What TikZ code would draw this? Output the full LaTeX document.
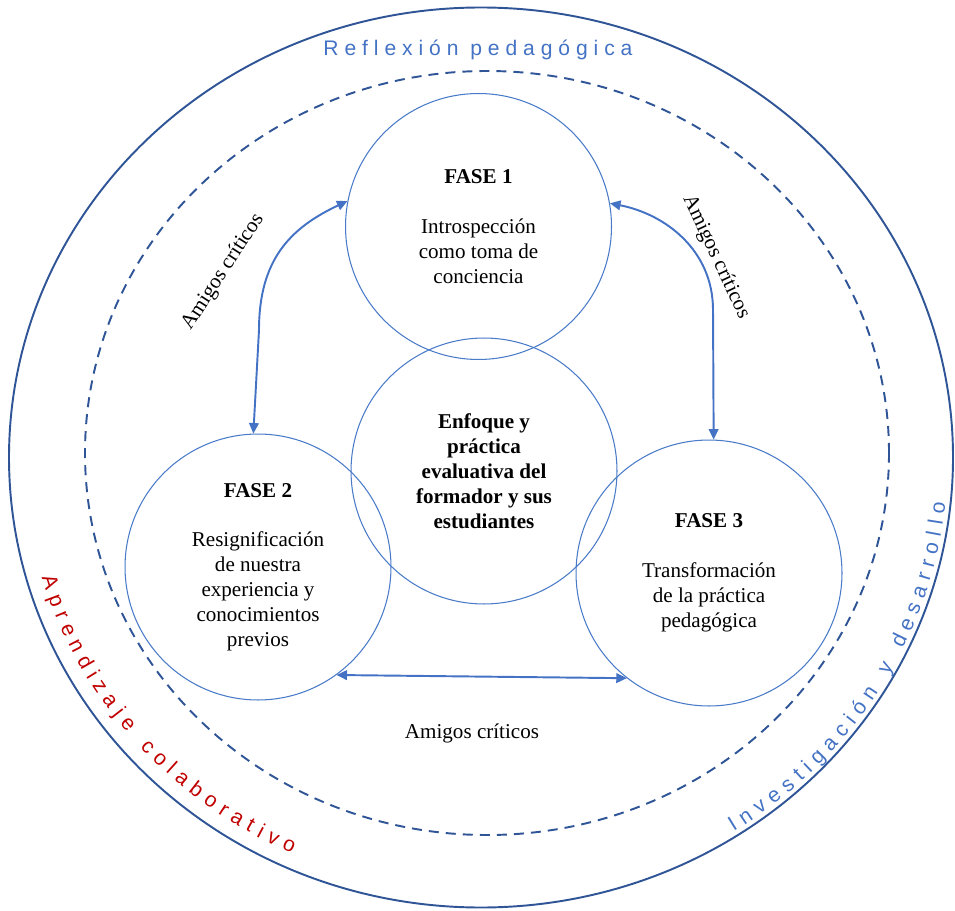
\documentclass[tikz,border=0pt]{standalone}
\usepackage{fontspec}
\setmainfont{Liberation Serif}
\setsansfont{Liberation Sans}
\usetikzlibrary{arrows.meta,decorations.text}

\definecolor{ringblue}{HTML}{2F5597}
\definecolor{circblue}{HTML}{4A7BC8}
\definecolor{arrowblue}{HTML}{4472C4}
\definecolor{textblue}{HTML}{4472C4}
\definecolor{textred}{HTML}{C00000}

\tikzset{
  fase/.style={circle, draw=circblue, line width=0.6pt, minimum size=5.32cm,
    inner sep=0pt, align=center, font=\fontsize{12}{14.2}\selectfont},
  nucleo/.style={fase, font=\bfseries\fontsize{12}{14.2}\selectfont},
  amigos/.style={font=\fontsize{12}{14.2}\selectfont},
  critic/.style={{Triangle[length=6pt,width=5.5pt]}-{Triangle[length=6pt,width=5.5pt]},
    draw=arrowblue, line width=1.1pt},
  ring/.style={draw=ringblue, line width=1.1pt},
  spaced/.style={font=\sffamily\fontsize{12}{14}\selectfont}
}

\begin{document}
\begin{tikzpicture}[x=0.02cm, y=0.02cm]
  \useasboundingbox (0,0) rectangle (955,910);

  % outer rings
  \coordinate (oc) at (481,452.5);
  \coordinate (dc) at (487,457);
  \draw[ring] (oc) ellipse[x radius=472, y radius=450];
  \draw[ring, dash pattern=on 5.7pt off 4pt] (dc) ellipse[x radius=402, y radius=382];

  % phases
  \node[fase] (f1) at (478.5,683.5) {\textbf{FASE 1}\\[14pt]Introspección\\como toma de\\conciencia};
  \node[nucleo] (ctr) at (484,439) {Enfoque y\\práctica\\evaluativa del\\formador y sus\\estudiantes};
  \node[fase] (f2) at (258,343) {\textbf{FASE 2}\\[14pt]Resignificación\\de nuestra\\experiencia y\\conocimientos\\previos};
  \node[fase] (f3) at (709,337) {\textbf{FASE 3}\\[14pt]Transformación\\de la práctica\\pedagógica};

  \draw[critic] (f1.169) .. controls (290,682) and (259,650) .. (259,580) -- (f2.92);
  \draw[critic] (f1.10) .. controls (665,696) and (713,660) .. (713,600) -- (f3.88);
  \draw[critic] (f2.-54) -- (f3.232);

  \node[amigos, rotate=57] (a12) at (223,638) {Amigos críticos};
  \node[amigos, rotate=-65] (a13) at (716,653) {Amigos críticos};
  \node[amigos] (a23) at (472,177) {Amigos críticos};

  % ring texts
  \node[spaced, text=textblue, anchor=base] (refl) at (478,854)
    {\addfontfeatures{LetterSpace=28}Reflexión pedagógica};
  \path[decorate, decoration={text effects along path, text={Aprendizaje colaborativo},
      text align=center, text effects/.cd, text along path,
      characters={text=textred, inner xsep=0pt, font=\sffamily\fontsize{12}{14}\selectfont},
      character widths={inner xsep=1.9pt, font=\sffamily\fontsize{12}{14}\selectfont}}]
    (oc) ++(190.7:457 and 435) arc[start angle=190.7, end angle=250.7, x radius=457, y radius=435];
  \path[decorate, decoration={text effects along path, text={Investigación y desarrollo},
      text align=center, text effects/.cd, text along path,
      characters={text=textblue, inner xsep=0pt, font=\sffamily\fontsize{12}{14}\selectfont},
      character widths={inner xsep=1.9pt, font=\sffamily\fontsize{12}{14}\selectfont}}]
    (oc) ++(-61.5:467 and 445) arc[start angle=-61.5, end angle=-1.5, x radius=467, y radius=445];
\end{tikzpicture}
\end{document}
